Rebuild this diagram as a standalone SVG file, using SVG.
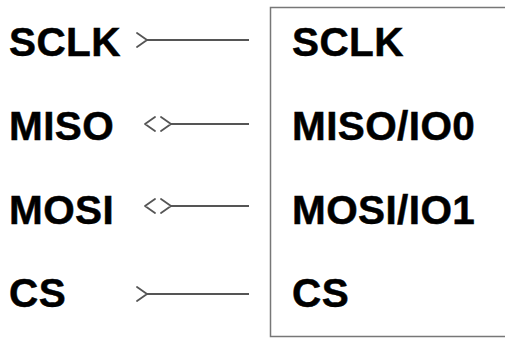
<svg xmlns="http://www.w3.org/2000/svg" width="505" height="338" viewBox="0 0 505 338">
<style>
.lbl{font-family:"Liberation Sans",Arial,sans-serif;font-weight:bold;font-size:40.5px;fill:#000;stroke:#000;stroke-width:0.5;letter-spacing:0.4px}
.wire{stroke:#555;stroke-width:2;fill:none}
.chev{stroke:#555;stroke-width:1.8;fill:none;stroke-linecap:round;stroke-linejoin:round}
</style>
<rect width="505" height="338" fill="#fff"/>
<g id="master">
<text class="lbl" x="9" y="56">SCLK</text>
<text class="lbl" x="9" y="140">MISO</text>
<text class="lbl" x="9" y="224">MOSI</text>
<text class="lbl" x="9" y="307">CS</text>
</g>
<g id="slave">
<rect x="270.5" y="7.5" width="250" height="329" fill="none" stroke="#777" stroke-width="1.5"/>
<text class="lbl" x="292" y="56">SCLK</text>
<text class="lbl" x="292" y="140">MISO/IO0</text>
<text class="lbl" x="292" y="224">MOSI/IO1</text>
<text class="lbl" x="292" y="307">CS</text>
</g>
<g id="connectors">
<line class="wire" x1="147" y1="40" x2="249" y2="40"/>
<path class="chev" d="M137,33 L147,40 L137,47"/>
<line class="wire" x1="171" y1="124" x2="249" y2="124"/>
<path class="chev" d="M155,117 L145,124 L155,131 M161,117 L171,124 L161,131"/>
<line class="wire" x1="171" y1="206" x2="249" y2="206"/>
<path class="chev" d="M155,199 L145,206 L155,213 M161,199 L171,206 L161,213"/>
<line class="wire" x1="147" y1="294" x2="249" y2="294"/>
<path class="chev" d="M137,287 L147,294 L137,301"/>
</g>
</svg>
